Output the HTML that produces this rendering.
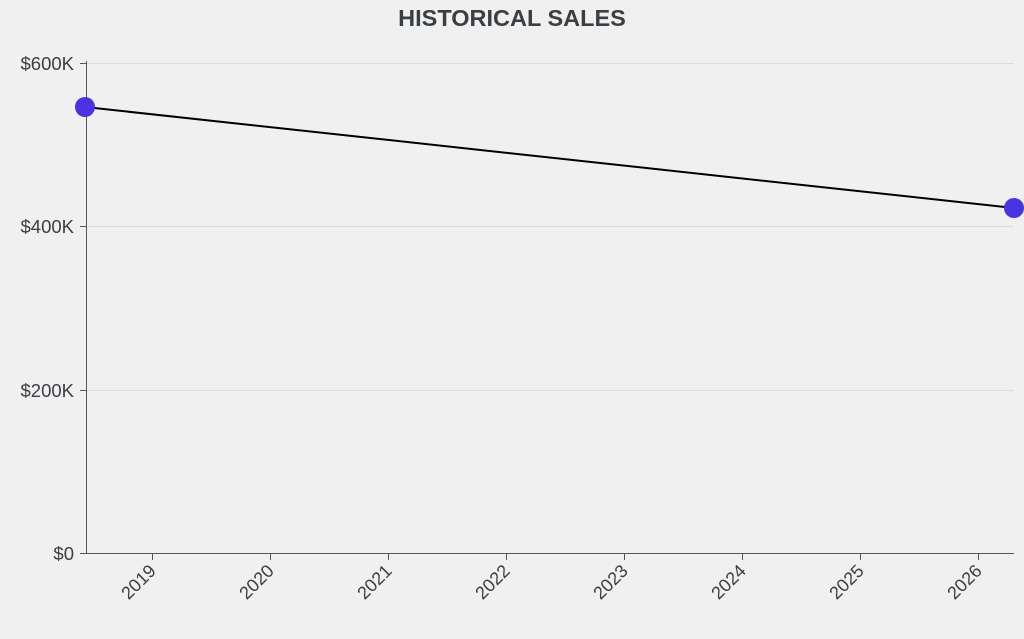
<!DOCTYPE html>
<html><head><style>
html,body{margin:0;padding:0;background:#f0f0f0;}
text{font-family:"Liberation Sans",sans-serif;}
</style></head><body>
<svg width="1024" height="634" viewBox="0 0 1024 634" xmlns="http://www.w3.org/2000/svg">
<rect width="1024" height="634" fill="#f0f0f0"/>
<text x="512" y="26" text-anchor="middle" font-size="23.5" font-weight="bold" fill="#3a3f44">HISTORICAL SALES</text>
<g stroke="#dcdcdc" stroke-width="1">
<line x1="86" y1="63.5" x2="1014" y2="63.5"/>
<line x1="86" y1="226.5" x2="1014" y2="226.5"/>
<line x1="86" y1="390.5" x2="1014" y2="390.5"/>
</g>
<g stroke="#555" stroke-width="1">
<line x1="86.5" y1="61" x2="86.5" y2="553"/>
<line x1="86" y1="553.5" x2="1014" y2="553.5"/>
<line x1="80" y1="63.5" x2="86" y2="63.5"/>
<line x1="80" y1="226.5" x2="86" y2="226.5"/>
<line x1="80" y1="390.5" x2="86" y2="390.5"/>
<line x1="80" y1="553.5" x2="86" y2="553.5"/>
</g>
<g font-size="18.5" fill="#3a3f44" text-anchor="end">
<text x="74" y="70">$600K</text>
<text x="74" y="233">$400K</text>
<text x="74" y="397">$200K</text>
<text x="74" y="560">$0</text>
</g>
<g stroke="#555" stroke-width="1">
<line x1="152.5" y1="553" x2="152.5" y2="560"/>
<line x1="270.5" y1="553" x2="270.5" y2="560"/>
<line x1="388.5" y1="553" x2="388.5" y2="560"/>
<line x1="506.5" y1="553" x2="506.5" y2="560"/>
<line x1="624.5" y1="553" x2="624.5" y2="560"/>
<line x1="742.5" y1="553" x2="742.5" y2="560"/>
<line x1="860.5" y1="553" x2="860.5" y2="560"/>
<line x1="978.5" y1="553" x2="978.5" y2="560"/>
</g>
<g font-size="18" fill="#3a3f44" text-anchor="end">
<text transform="translate(157,572) rotate(-45)">2019</text>
<text transform="translate(275,572) rotate(-45)">2020</text>
<text transform="translate(393,572) rotate(-45)">2021</text>
<text transform="translate(511,572) rotate(-45)">2022</text>
<text transform="translate(629,572) rotate(-45)">2023</text>
<text transform="translate(747,572) rotate(-45)">2024</text>
<text transform="translate(865,572) rotate(-45)">2025</text>
<text transform="translate(983,572) rotate(-45)">2026</text>
</g>
<line x1="85" y1="107" x2="1014" y2="208" stroke="#000" stroke-width="2"/>
<circle cx="85" cy="107" r="10" fill="#4a33e0"/>
<circle cx="1014" cy="208" r="10" fill="#4a33e0"/>
</svg>
</body></html>
